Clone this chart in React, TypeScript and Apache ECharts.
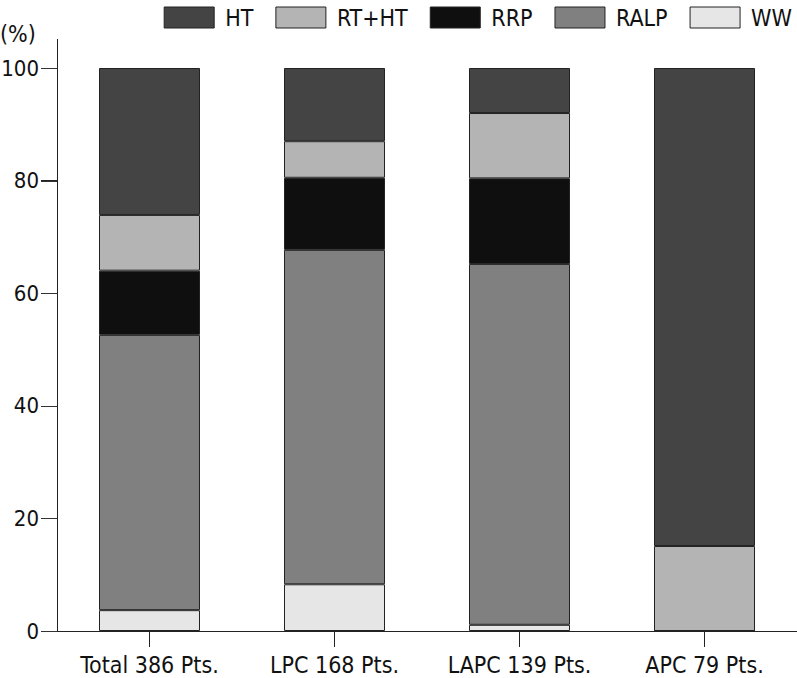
import React, { useEffect, useRef } from "react";
import * as echarts from "echarts";

const categories = ["Total 386 Pts.", "LPC 168 Pts.", "LAPC 139 Pts.", "APC 79 Pts."];
const seriesNames = ["HT", "RT+HT", "RRP", "RALP", "WW"];
const wwValues = [3.7, 8.3, 1.1, 0];
const ralpValues = [48.9, 59.4, 64.1, 0];
const rrpValues = [11.4, 12.8, 15.2, 0];
const rthtValues = [9.9, 6.5, 11.6, 15.1];
const htValues = [26.1, 13.0, 8.0, 84.9];
const yTicks = [0, 20, 40, 60, 80, 100];

const FONT = "'DejaVu Sans Condensed', 'Liberation Sans Narrow', 'Roboto', sans-serif";

export default function App() {
  const ref = useRef<HTMLDivElement>(null);
  useEffect(() => {
    if (!ref.current) return;
    const chart = echarts.init(ref.current, null, { renderer: "svg" });
    const colors: Record<string, string> = {
      HT: "#444444",
      "RT+HT": "#b4b4b4",
      RRP: "#0f0f0f",
      RALP: "#808080",
      WW: "#e6e6e6",
    };
    const stackOrder: [string, number[]][] = [
      ["WW", wwValues],
      ["RALP", ralpValues],
      ["RRP", rrpValues],
      ["RT+HT", rthtValues],
      ["HT", htValues],
    ];
    const gridLeft = 57;
    chart.setOption({
      animation: false,
      backgroundColor: "#ffffff",
      textStyle: { fontFamily: FONT },
      legend: {
        data: seriesNames,
        icon: "rect",
        right: 0,
        top: 1,
        itemWidth: 50,
        itemHeight: 21,
        itemGap: 22,
        itemStyle: { borderColor: "#222", borderWidth: 1 },
        textStyle: { fontFamily: FONT, fontSize: 23, color: "#111", padding: [0, 0, 0, 6] },
      },
      grid: { left: gridLeft, right: 0, top: 68, bottom: 47, containLabel: false, outerBoundsMode: "none" },
      xAxis: {
        type: "category",
        data: categories,
        axisLine: { show: true, lineStyle: { color: "#222", width: 1 } },
        axisTick: { show: true, interval: 0, alignWithLabel: true, length: 16, lineStyle: { color: "#222" } },
        axisLabel: { interval: 0, fontFamily: FONT, fontSize: 23, color: "#111", margin: 22 },
      },
      yAxis: {
        type: "value",
        min: 0,
        max: 100,
        interval: 20,
        axisLine: { show: true, lineStyle: { color: "#222", width: 1 } },
        axisTick: { show: true, inside: false, length: 16, lineStyle: { color: "#222", width: 1, opacity: 1 } },
        axisLabel: { show: true, fontFamily: FONT, fontSize: 22, color: "#111", margin: 18 },
        splitLine: { show: false },
      },
      series: stackOrder.map(([name, vals]) => ({
        name,
        type: "bar",
        stack: "total",
        barWidth: 101,
        data: vals,
        itemStyle: { color: colors[name], borderColor: "#222", borderWidth: 1 },
      })),
    });
    const topPx = chart.convertToPixel({ yAxisIndex: 0 }, 100) as number;
    const extras: any[] = [
      {
        type: "text",
        left: 0,
        top: 22,
        style: { text: "(%)", font: `23px ${FONT}`, fill: "#111" },
      },
      {
        type: "rect",
        z: 100,
        shape: { x: gridLeft, y: topPx - 29, width: 1, height: 29 },
        style: { fill: "#222" },
      },
    ];
    yTicks.forEach((v) => {
      const py = Math.round(chart.convertToPixel({ yAxisIndex: 0 }, v) as number);
      extras.push({
        type: "rect",
        z: 100,
        shape: { x: gridLeft - 16, y: py, width: 16, height: 1 },
        style: { fill: "#333333" },
      });
    });
    chart.setOption({ graphic: { elements: extras } });
    return () => chart.dispose();
  }, []);
  return <div ref={ref} style={{ width: 797, height: 678, position: "absolute", left: 0, top: 0 }} />;
}
